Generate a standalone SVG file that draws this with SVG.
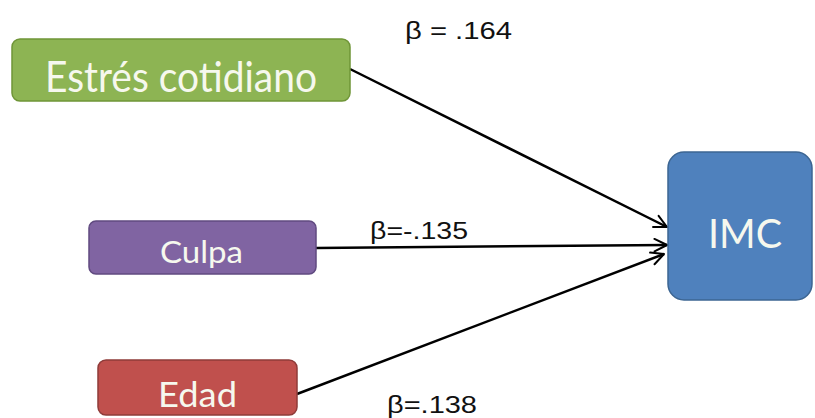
<svg xmlns="http://www.w3.org/2000/svg" width="815" height="418" viewBox="0 0 815 418">
  <style>
    .box { stroke-width: 1.5; }
    .lbl { font-family: Lato, "Open Sans", "Liberation Sans", sans-serif; fill: #f6f8ee; }
    .beta { font-family: "Liberation Sans", Arial, sans-serif; font-size: 23px; fill: #111; }
    .edge { stroke: #000; stroke-width: 2.5; fill: none; marker-end: url(#arrow); }
  </style>
  <defs>
    <marker id="arrow" viewBox="0 0 12 12" refX="11" refY="6" markerWidth="6" markerHeight="6" markerUnits="strokeWidth" orient="auto">
      <path d="M1,1 L11,6 L1,11" fill="none" stroke="#000" stroke-width="1.6" stroke-linecap="round" stroke-linejoin="round"/>
    </marker>
  </defs>
  <rect width="815" height="418" fill="#fff"/>

  <g id="connectors">
    <line class="edge" x1="350" y1="69" x2="667" y2="227"/>
    <line class="edge" x1="316" y1="248" x2="667" y2="245"/>
    <line class="edge" x1="297" y1="394" x2="664" y2="254"/>
    <text class="beta" x="405" y="39" textLength="107" lengthAdjust="spacingAndGlyphs">β = .164</text>
    <text class="beta" x="370" y="239" textLength="98" lengthAdjust="spacingAndGlyphs">β=-.135</text>
    <text class="beta" x="387" y="413" font-size="24" textLength="90" lengthAdjust="spacingAndGlyphs">β=.138</text>
  </g>

  <g id="estres">
    <rect class="box" x="12" y="39" width="338" height="62" rx="8" fill="#8db453" stroke="#6f9537"/>
    <text class="lbl" x="45" y="92" font-size="42" fill="#f4f8e0" textLength="272" lengthAdjust="spacingAndGlyphs">Estrés cotidiano</text>
  </g>

  <g id="culpa">
    <rect class="box" x="89" y="221" width="227" height="53" rx="7" fill="#8064a2" stroke="#604a80"/>
    <text class="lbl" x="160" y="263" font-size="30" textLength="83" lengthAdjust="spacingAndGlyphs">Culpa</text>
  </g>

  <g id="edad">
    <rect class="box" x="98" y="360" width="199" height="55" rx="8" fill="#c0504d" stroke="#8f3b39"/>
    <text class="lbl" x="158" y="407" font-size="34" textLength="79" lengthAdjust="spacingAndGlyphs">Edad</text>
  </g>

  <g id="imc">
    <rect class="box" x="668" y="152" width="144" height="148" rx="16" fill="#4f81bd" stroke="#3c6592"/>
    <text class="lbl" x="708" y="248" font-size="40" textLength="74" lengthAdjust="spacingAndGlyphs">IMC</text>
  </g>
</svg>
